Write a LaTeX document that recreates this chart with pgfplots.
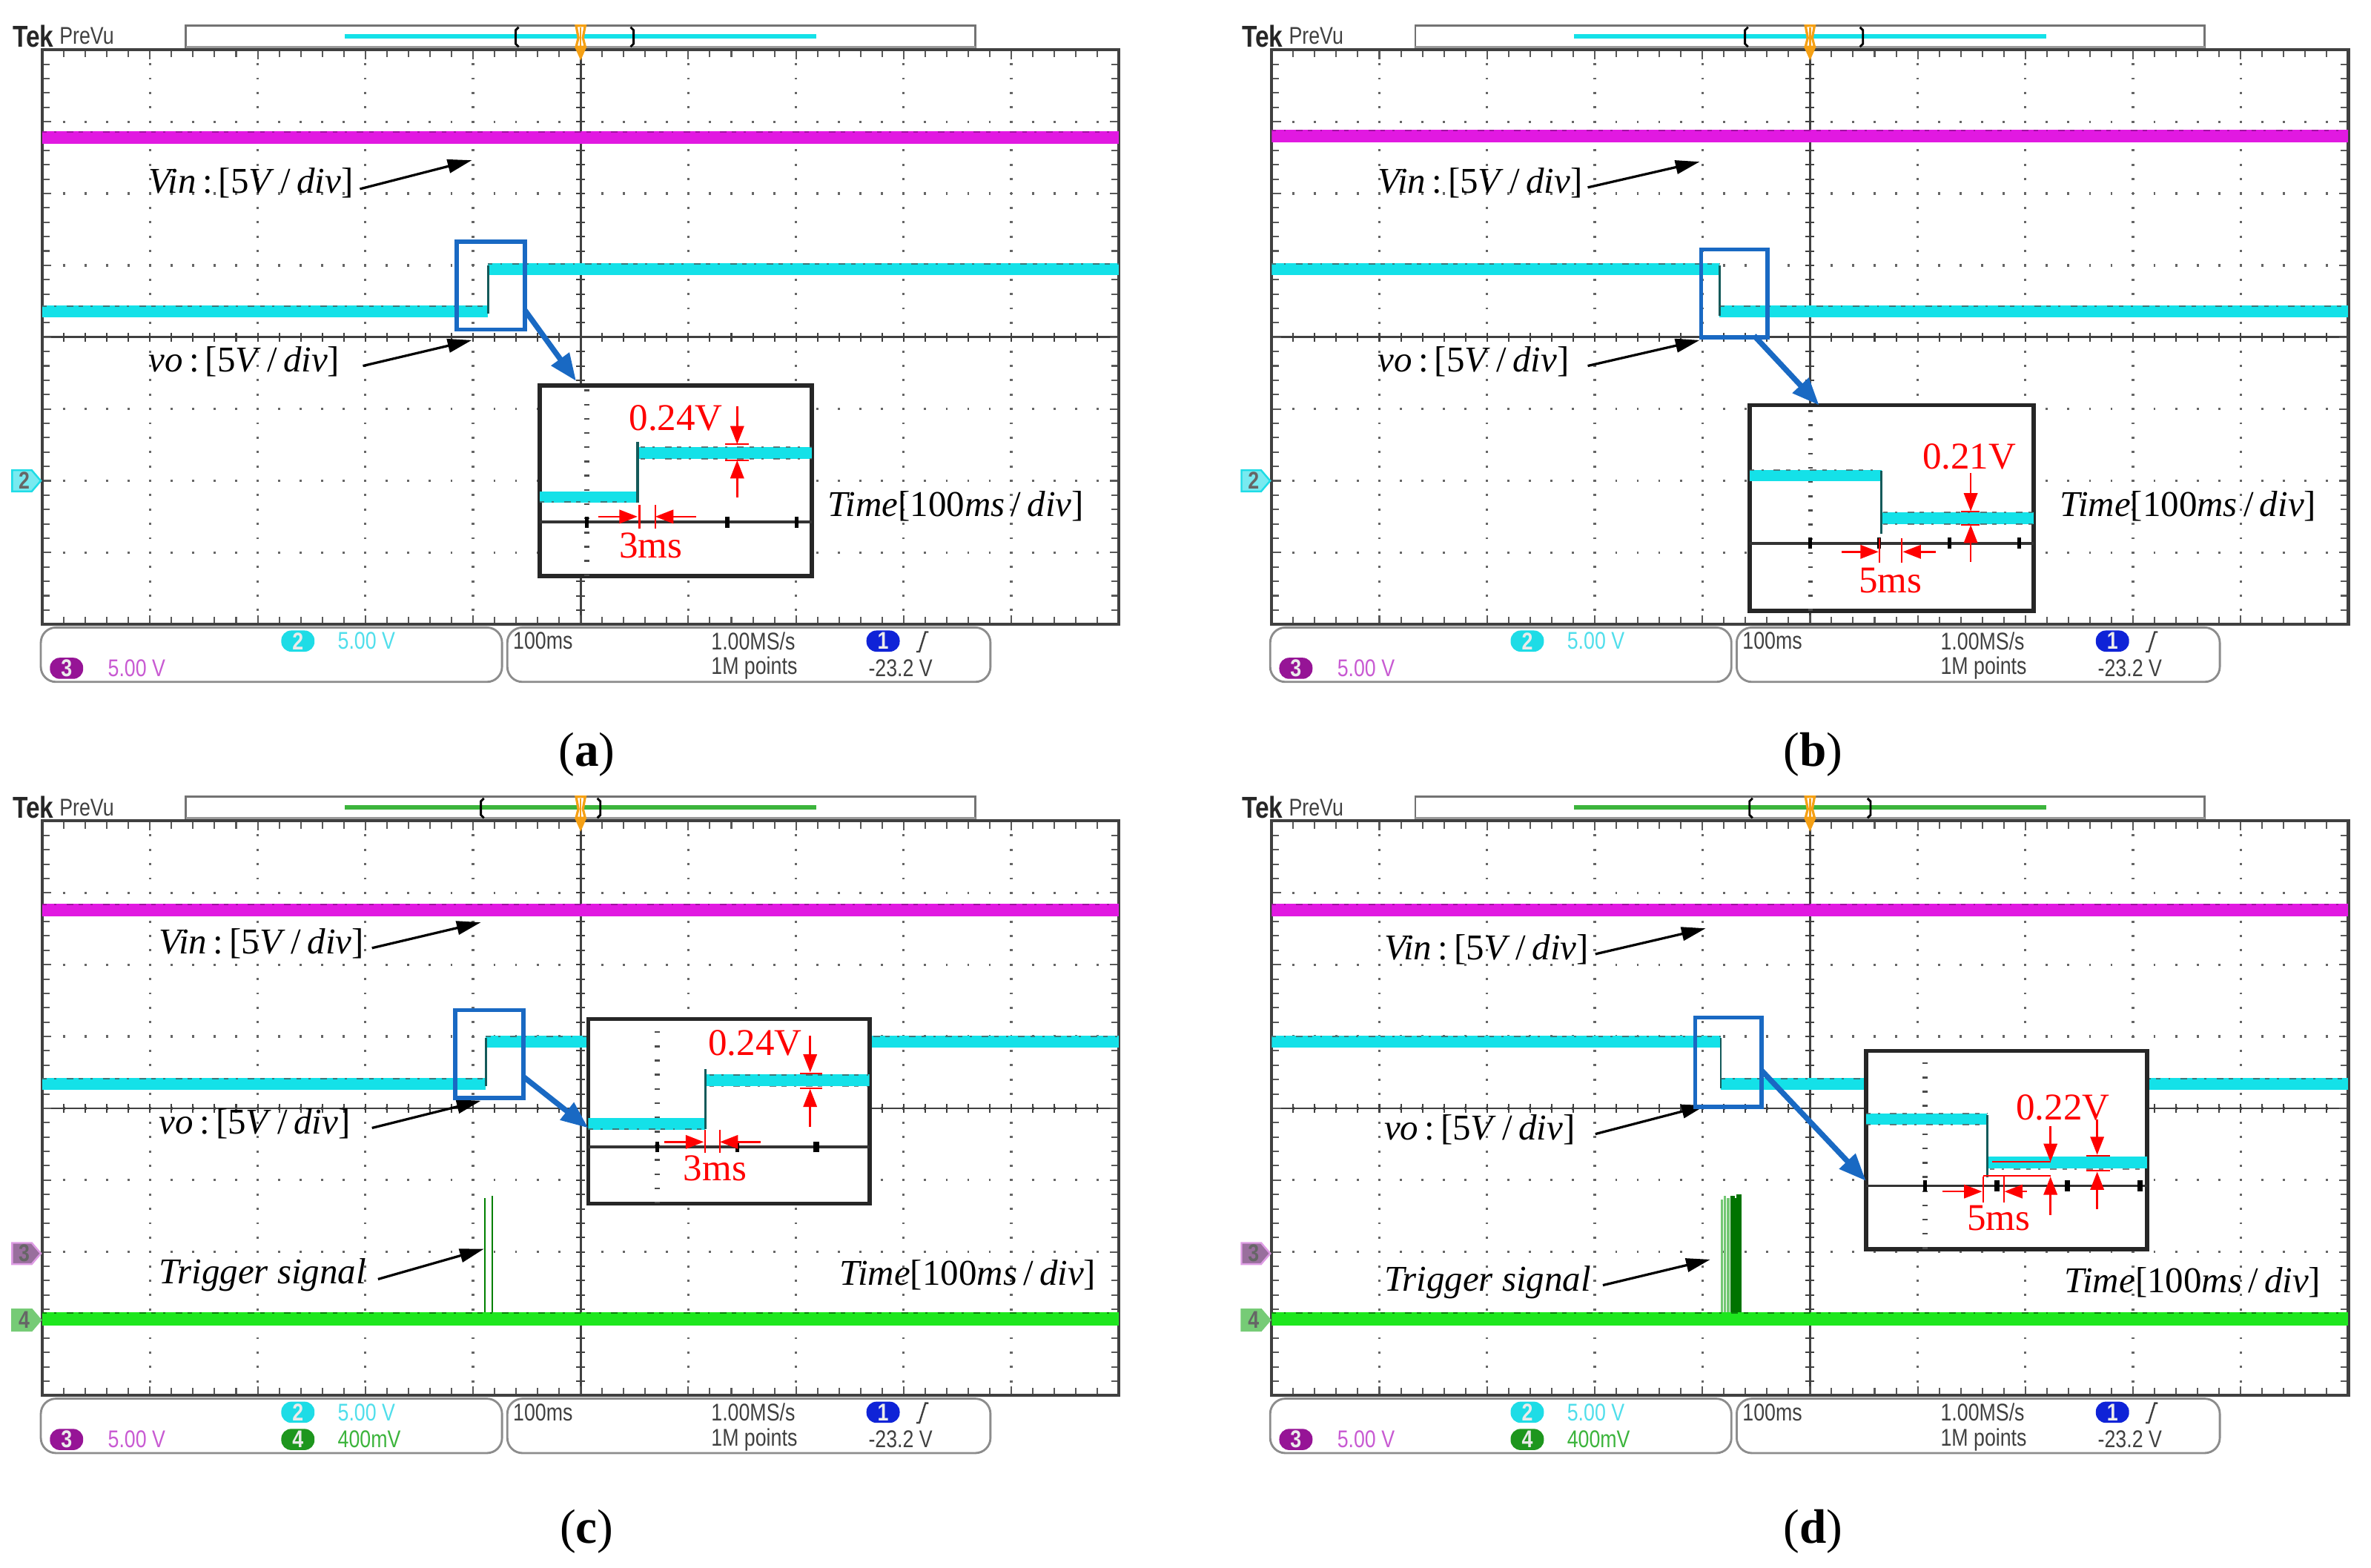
\documentclass[border=0pt]{standalone}
\usepackage{pgfplots}
\pgfplotsset{compat=1.18}
\usepackage{fontspec}
\setmainfont{Liberation Serif}
\newfontfamily\uifont[FakeStretch=0.82]{Liberation Sans}
\usetikzlibrary{arrows.meta}

\definecolor{scmag}{RGB}{225,25,225}
\definecolor{sccyan}{RGB}{20,225,232}
\definecolor{scgreen}{RGB}{30,230,30}
\definecolor{scblue}{RGB}{25,105,195}
\definecolor{scred}{RGB}{255,0,0}
\definecolor{tealdark}{RGB}{20,90,90}
\definecolor{uicyan}{RGB}{30,220,230}
\definecolor{uicyantext}{RGB}{80,222,235}
\definecolor{uipurple}{RGB}{150,20,150}
\definecolor{uimag}{RGB}{200,90,210}
\definecolor{uigreen}{RGB}{30,150,30}
\definecolor{uigreentext}{RGB}{60,180,60}
\definecolor{uiblue}{RGB}{15,35,215}
\definecolor{uiorange}{RGB}{245,160,20}

\newcommand{\labf}{\fontsize{12}{14}\selectfont}
\newcommand{\redf}{\fontsize{12.5}{14}\selectfont}
\newcommand{\uif}{\uifont\fontsize{8}{9}\selectfont}
\newcommand{\panf}{\fontsize{16}{18}\selectfont}

\tikzset{
  redarrow/.style={scred, line width=0.6pt, -{Triangle[length=6pt,width=4.5pt]}},
  redline/.style={scred, line width=0.5pt},
  blkarrow/.style={black, line width=0.8pt, -{Triangle[length=8pt,width=4.5pt]}},
  bluearrow/.style={scblue, line width=1.8pt, -{Triangle[length=9pt,width=7pt]}},
  noise/.style={black!70, line width=0.45pt, opacity=0.7, dash pattern=on 1.5pt off 2.5pt on 0.7pt off 3.3pt on 2.2pt off 1.8pt},
  badge/.style={rectangle, rounded corners=3.3pt, inner sep=0pt, minimum width=11pt, minimum height=7pt, text=white!92!black, font=\uif\bfseries},
}

\pgfplotsset{
  scopeaxis/.style={
    anchor=north west, scale only axis, width=356pt, height=190pt,
    xmin=-5, xmax=5, ymin=-4, ymax=4,
    xtick={-5,...,5}, ytick={-4,...,4},
    minor x tick num=4, minor y tick num=4,
    xticklabels={}, yticklabels={},
    tick align=inside, tick pos=both,
    major tick length=3pt, minor tick length=2.5pt,
    tick style={black!65, line width=0.5pt},
    minor tick style={black!65, line width=0.5pt},
    axis line style={black!75, line width=1pt},
  },
  insetaxis/.style={
    anchor=north west, scale only axis,
    xmin=0, xmax=100, ymin=0, ymax=100,
    ticks=none,
    axis line style={black!85, line width=1.4pt},
    axis background/.style={fill=white},
  },
}

% background of one scope screen: grid, centre lines, top bar, info bar
\newcommand{\panelbg}[5]{% #1 dx, #2 dy, #3 bar colour, #4 left bracket, #5 right bracket
  \foreach \i in {1,...,9} {
    \draw[black!60, line width=0.8pt, dash pattern=on 0.7pt off 4.05pt, dash phase=0.35pt]
      ({28+#1+\i*71.2},{33+#2}) -- ({28+#1+\i*71.2},{413+#2});
  }
  \foreach \j in {1,...,7} {
    \draw[black!60, line width=0.8pt, dash pattern=on 0.7pt off 6.42pt, dash phase=0.35pt]
      ({28+#1},{33+#2+\j*47.5}) -- ({740+#1},{33+#2+\j*47.5});
  }
  \draw[black!75, line width=0.7pt] ({384+#1},{33+#2}) -- ({384+#1},{413+#2});
  \draw[black!75, line width=0.7pt] ({28+#1},{223+#2}) -- ({740+#1},{223+#2});
  \foreach \k in {1,...,49} {
    \draw[black!75, line width=0.5pt] ({28+#1+\k*14.24},{220+#2}) -- ++(0,6);
  }
  \foreach \k in {1,...,39} {
    \draw[black!75, line width=0.5pt] ({381+#1},{33+#2+\k*9.5}) -- ++(6,0);
  }
  % Tek PreVu
  \node[anchor=west, inner sep=0pt, font=\uifont\fontsize{10}{11}\selectfont\bfseries, text=black!85] at ({8+#1},{24+#2}) {Tek};
  \node[anchor=west, inner sep=0pt, font=\uif, text=black!75] at ({39+#1},{24+#2}) {PreVu};
  % top bar
  \draw[black!55, line width=0.7pt, fill=white] ({123+#1},{17+#2}) rectangle ({645+#1},{32+#2});
  \draw[black!40, line width=1pt] ({123+#1},{31.5+#2}) -- ({645+#1},{31.5+#2});
  \draw[#3, line width=1.3pt] ({228+#1},{24+#2}) -- ({540+#1},{24+#2});
  \draw[black, line width=0.7pt] ({#4+#1+2},{18+#2}) -- ({#4+#1},{20+#2}) -- ({#4+#1},{29+#2}) -- ({#4+#1+2},{31+#2});
  \draw[black, line width=0.7pt] ({#5+#1-2},{18+#2}) -- ({#5+#1},{20+#2}) -- ({#5+#1},{29+#2}) -- ({#5+#1-2},{31+#2});
  % info bar
  \draw[black!45, line width=0.7pt, rounded corners=5pt] ({27+#1},{415+#2}) rectangle ({332+#1},{451+#2});
  \draw[black!45, line width=0.7pt, rounded corners=5pt] ({335.5+#1},{415+#2}) rectangle ({655+#1},{451+#2});
  \node[badge, fill=uicyan] at ({197+#1},{424+#2}) {2};
  \node[anchor=west, inner sep=0pt, text=uicyantext, font=\uif] at ({223+#1},{424+#2}) {5.00 V};
  \node[badge, fill=uipurple] at ({44+#1},{442+#2}) {3};
  \node[anchor=west, inner sep=0pt, text=uimag, font=\uif] at ({71+#1},{442+#2}) {5.00 V};
  \node[anchor=west, inner sep=0pt, text=black!75, font=\uif] at ({339+#1},{424+#2}) {100ms};
  \node[anchor=west, inner sep=0pt, text=black!75, font=\uif] at ({470+#1},{424+#2}) {1.00MS/s};
  \node[anchor=west, inner sep=0pt, text=black!75, font=\uif] at ({470+#1},{442+#2}) {1M points};
  \node[badge, fill=uiblue] at ({584+#1},{424+#2}) {1};
  \draw[black!75, line width=0.6pt] ({606+#1},{431+#2}) -- ({608+#1},{431+#2}) -- ({612+#1},{418+#2}) -- ({614+#1},{418+#2});
  \node[anchor=west, inner sep=0pt, text=black!75, font=\uif] at ({574+#1},{442+#2}) {-23.2 V};
}

\newcommand{\chfour}[2]{% extra channel 4 text in the info bar
  \node[badge, fill=uigreen] at ({197+#1},{442+#2}) {4};
  \node[anchor=west, inner sep=0pt, text=uigreentext, font=\uif] at ({223+#1},{442+#2}) {400mV};
}

\newcommand{\chmark}[5]{% x offset, y centre, fill, draw, label
  \draw[fill=#3, draw=#4, line width=0.6pt] ({8+#1},{#2-7}) -- ({21+#1},{#2-7}) -- ({27+#1},{#2}) -- ({21+#1},{#2+7}) -- ({8+#1},{#2+7}) -- cycle;
  \node[font=\uif\bfseries, text=black!60, inner sep=0pt] at ({16+#1},{#2}) {#5};
}

\newcommand{\trigmark}[2]{%
  \draw[uiorange, line width=0.8pt, fill=white] ({381+#1},{17+#2}) -- ({387+#1},{17+#2}) -- ({385.5+#1},{25+#2}) -- ({387+#1},{31+#2}) -- ({381+#1},{31+#2}) -- ({382.5+#1},{25+#2}) -- cycle;
  \fill[uiorange] ({380+#1},{31+#2}) -- ({388+#1},{31+#2}) -- ({384+#1},{40+#2}) -- cycle;
  \draw[uiorange, line width=0.6pt] ({384+#1},{18+#2}) -- ({384+#1},{31+#2});
}

\newcommand{\vinlab}{\textit{Vin}\,:\,[5\textit{V}\,/\,\textit{div}]}
\newcommand{\volab}{\textit{vo}\,:\,[5\textit{V}\,/\,\textit{div}]}
\newcommand{\timelab}{\textit{Time}[100\textit{ms}\,/\,\textit{div}]}

\begin{document}
\begin{tikzpicture}
\useasboundingbox (0,0) rectangle (784pt,518.5pt);

% ---------- backgrounds ----------
\begin{scope}[x=0.5pt, y=-0.5pt, shift={(0pt,518.5pt)}]
  \panelbg{0}{0}{sccyan}{341}{419}
  \panelbg{813}{0}{sccyan}{341}{419}
  \panelbg{0}{510}{uigreentext}{318}{397}
  \panelbg{813}{510}{uigreentext}{344}{424}
  \chfour{0}{510}
  \chfour{813}{510}
\end{scope}

% ---------- (a) ----------
\begin{axis}[scopeaxis, at={(14pt,502pt)}]
  \addplot[scmag, line width=4.3pt] coordinates {(-5,2.78) (5,2.78)};
  \addplot[noise, draw=scmag!60!black] coordinates {(-5,2.86) (5,2.86)};
  \addplot[sccyan, line width=3.9pt] coordinates {(-5,0.36) (-0.86,0.36)};
  \addplot[sccyan, line width=3.9pt] coordinates {(-0.86,0.95) (5,0.95)};
  \addplot[tealdark, line width=0.6pt] coordinates {(-0.86,0.33) (-0.86,1.0)};
  \addplot[noise] coordinates {(-5,0.43) (-0.86,0.43)};
  \addplot[noise] coordinates {(-0.86,1.02) (5,1.02)};
\end{axis}

% ---------- (b) ----------
\begin{axis}[scopeaxis, at={(420.5pt,502pt)}]
  \addplot[scmag, line width=4.3pt] coordinates {(-5,2.8) (5,2.8)};
  \addplot[noise, draw=scmag!60!black] coordinates {(-5,2.88) (5,2.88)};
  \addplot[sccyan, line width=3.9pt] coordinates {(-5,0.95) (-0.84,0.95)};
  \addplot[sccyan, line width=3.9pt] coordinates {(-0.84,0.36) (5,0.36)};
  \addplot[tealdark, line width=0.6pt] coordinates {(-0.84,1.0) (-0.84,0.3)};
  \addplot[noise] coordinates {(-5,1.02) (-0.84,1.02)};
  \addplot[noise] coordinates {(-0.84,0.43) (5,0.43)};
\end{axis}

% ---------- (c) ----------
\begin{axis}[scopeaxis, at={(14pt,247pt)}]
  \addplot[scmag, line width=4.3pt] coordinates {(-5,2.76) (5,2.76)};
  \addplot[noise, draw=scmag!60!black] coordinates {(-5,2.84) (5,2.84)};
  \addplot[sccyan, line width=3.9pt] coordinates {(-5,0.34) (-0.88,0.34)};
  \addplot[sccyan, line width=3.9pt] coordinates {(-0.88,0.93) (5,0.93)};
  \addplot[tealdark, line width=0.6pt] coordinates {(-0.88,0.31) (-0.88,0.98)};
  \addplot[noise] coordinates {(-5,0.41) (-0.88,0.41)};
  \addplot[noise] coordinates {(-0.88,1.0) (5,1.0)};
  \addplot[green!50!black, line width=0.6pt] coordinates {(-0.89,-2.93) (-0.89,-1.25)};
  \addplot[green!50!black, line width=0.6pt] coordinates {(-0.82,-2.93) (-0.82,-1.22)};
  \addplot[scgreen, line width=4.3pt] coordinates {(-5,-2.93) (5,-2.93)};
  \addplot[noise, draw=green!35!black] coordinates {(-5,-2.85) (5,-2.85)};
\end{axis}

% ---------- (d) ----------
\begin{axis}[scopeaxis, at={(420.5pt,247pt)}]
  \addplot[scmag, line width=4.3pt] coordinates {(-5,2.76) (5,2.76)};
  \addplot[noise, draw=scmag!60!black] coordinates {(-5,2.84) (5,2.84)};
  \addplot[sccyan, line width=3.9pt] coordinates {(-5,0.93) (-0.83,0.93)};
  \addplot[sccyan, line width=3.9pt] coordinates {(-0.83,0.34) (5,0.34)};
  \addplot[tealdark, line width=0.6pt] coordinates {(-0.83,0.98) (-0.83,0.28)};
  \addplot[noise] coordinates {(-5,1.0) (-0.83,1.0)};
  \addplot[noise] coordinates {(-0.83,0.41) (5,0.41)};
  \addplot[green!60!black!55, line width=0.8pt] coordinates {(-0.82,-2.93) (-0.82,-1.27)};
  \addplot[green!60!black!55, line width=0.8pt] coordinates {(-0.79,-2.93) (-0.79,-1.22)};
  \addplot[green!60!black!55, line width=0.8pt] coordinates {(-0.76,-2.93) (-0.76,-1.25)};
  \addplot[green!45!black, line width=1.5pt] coordinates {(-0.72,-2.93) (-0.72,-1.22)};
  \addplot[green!45!black, line width=1.5pt] coordinates {(-0.69,-2.93) (-0.69,-1.25)};
  \addplot[green!45!black, line width=1.5pt] coordinates {(-0.66,-2.93) (-0.66,-1.2)};
  \addplot[scgreen, line width=4.3pt] coordinates {(-5,-2.93) (5,-2.93)};
  \addplot[noise, draw=green!35!black] coordinates {(-5,-2.85) (5,-2.85)};
\end{axis}

% ---------- labels, markers, boxes ----------
\begin{scope}[x=0.5pt, y=-0.5pt, shift={(0pt,518.5pt)}]
  \trigmark{0}{0} \trigmark{813}{0} \trigmark{0}{510} \trigmark{813}{510}
  \chmark{0}{318}{uicyan!60}{uicyan}{2}
  \chmark{813}{318}{uicyan!60}{uicyan}{2}
  \chmark{0}{829}{black!45!uimag!70}{uimag!60}{3}
  \chmark{813}{829}{black!45!uimag!70}{uimag!60}{3}
  \chmark{0}{873}{uigreentext!70}{uigreentext!70}{4}
  \chmark{813}{873}{uigreentext!70}{uigreentext!70}{4}

  % (a)
  \node[anchor=west, inner sep=0pt, font=\labf] at (98,121) {\vinlab};
  \draw[blkarrow] (238,125) -- (312,106);
  \node[anchor=west, inner sep=0pt, font=\labf] at (98,239) {\volab};
  \draw[blkarrow] (240,242) -- (312,225);
  \node[anchor=west, inner sep=0pt, font=\labf] at (547,335) {\timelab};
  \draw[scblue, line width=1.4pt] (302,160) rectangle (347,218);
  \node[font=\panf] at (388,499) {(\textbf{a})};

  % (b)
  \node[anchor=west, inner sep=0pt, font=\labf] at (911,121) {\vinlab};
  \draw[blkarrow] (1050,124) -- (1124,107);
  \node[anchor=west, inner sep=0pt, font=\labf] at (911,239) {\volab};
  \draw[blkarrow] (1050,242) -- (1124,225);
  \node[anchor=west, inner sep=0pt, font=\labf] at (1362,335) {\timelab};
  \draw[scblue, line width=1.4pt] (1125,165) rectangle (1169,223);
  \node[font=\panf] at (1199,499) {(\textbf{b})};

  % (c)
  \node[anchor=west, inner sep=0pt, font=\labf] at (105,624) {\vinlab};
  \draw[blkarrow] (246,627) -- (318,610);
  \node[anchor=west, inner sep=0pt, font=\labf] at (105,743) {\volab};
  \draw[blkarrow] (246,746) -- (318,728);
  \node[anchor=west, inner sep=0pt, font=\labf] at (105,843) {\textit{Trigger signal}};
  \draw[blkarrow] (250,846) -- (320,826);
  \node[anchor=west, inner sep=0pt, font=\labf] at (555,843) {\timelab};
  \draw[scblue, line width=1.4pt] (301,668) rectangle (346,726);
  \node[font=\panf] at (388,1013) {(\textbf{c})};

  % (d)
  \node[anchor=west, inner sep=0pt, font=\labf] at (915,628) {\vinlab};
  \draw[blkarrow] (1055,631) -- (1128,614);
  \node[anchor=west, inner sep=0pt, font=\labf] at (915,747) {\volab};
  \draw[blkarrow] (1055,750) -- (1128,731);
  \node[anchor=west, inner sep=0pt, font=\labf] at (915,848) {\textit{Trigger signal}};
  \draw[blkarrow] (1060,850) -- (1131,833);
  \node[anchor=west, inner sep=0pt, font=\labf] at (1365,848) {\timelab};
  \draw[scblue, line width=1.4pt] (1121,673) rectangle (1165,732);
  \node[font=\panf] at (1199,1013) {(\textbf{d})};
\end{scope}

% ---------- inset (a) ----------
\begin{axis}[insetaxis, at={(178.5pt,391pt)}, width=90pt, height=63pt]
  \draw[black!70, line width=1.6pt, dash pattern=on 0.6pt off 4.1pt] (axis cs:17.2,0) -- (axis cs:17.2,100);
  \draw[black!80, line width=0.9pt] (axis cs:0,28.3) -- (axis cs:100,28.3);
  \draw[black, line width=1.3pt] (axis cs:17.2,25.5) -- (axis cs:17.2,31.1);
  \draw[black, line width=1.3pt] (axis cs:68.9,25.5) -- (axis cs:68.9,31.1);
  \draw[black, line width=1.3pt] (axis cs:94.3,25.5) -- (axis cs:94.3,31.1);
  \addplot[sccyan, line width=3.7pt] coordinates {(0,41.6) (35.9,41.6)};
  \addplot[sccyan, line width=4pt] coordinates {(35.9,64.7) (100,64.7)};
  \addplot[tealdark, line width=0.8pt] coordinates {(35.9,38.5) (35.9,70.5)};
  \addplot[noise] coordinates {(0,38.9) (35.9,38.9)};
  \addplot[noise] coordinates {(37,61.6) (100,61.6)};
  \addplot[noise] coordinates {(37,67.6) (100,67.6)};
  \node[text=scred, font=\redf, inner sep=0pt] at (axis cs:50,82.9) {0.24V};
  \draw[redarrow] (axis cs:72.5,89) -- (axis cs:72.5,69.2);
  \draw[redarrow] (axis cs:72.5,41.3) -- (axis cs:72.5,60.8);
  \draw[redline] (axis cs:68.1,69.2) -- (axis cs:76.7,69.2);
  \draw[redline] (axis cs:68.1,60.8) -- (axis cs:76.7,60.8);
  \draw[redarrow] (axis cs:21.5,31.2) -- (axis cs:35.9,31.2);
  \draw[redarrow] (axis cs:57.4,31.2) -- (axis cs:42.4,31.2);
  \draw[redline] (axis cs:36.6,37.4) -- (axis cs:36.6,25.1);
  \draw[redline] (axis cs:42.4,37.4) -- (axis cs:42.4,25.1);
  \node[text=scred, font=\redf, inner sep=0pt] at (axis cs:40.7,16) {3ms};
\end{axis}

% ---------- inset (b) ----------
\begin{axis}[insetaxis, at={(578.5pt,384.5pt)}, width=94pt, height=68pt]
  \draw[black!70, line width=1.6pt, dash pattern=on 0.6pt off 4.1pt] (axis cs:21.4,0) -- (axis cs:21.4,100);
  \draw[black!80, line width=0.9pt] (axis cs:0,32.9) -- (axis cs:100,32.9);
  \draw[black, line width=1.3pt] (axis cs:21.4,30.3) -- (axis cs:21.4,35.5);
  \draw[black, line width=1.3pt] (axis cs:45.6,30.3) -- (axis cs:45.6,35.5);
  \draw[black, line width=1.3pt] (axis cs:70.4,30.3) -- (axis cs:70.4,35.5);
  \draw[black, line width=1.3pt] (axis cs:94.8,30.3) -- (axis cs:94.8,35.5);
  \addplot[sccyan, line width=3.8pt] coordinates {(0,65.8) (46.4,65.8)};
  \addplot[sccyan, line width=3.8pt] coordinates {(46.4,45) (100,45)};
  \addplot[tealdark, line width=0.8pt] coordinates {(46.4,68) (46.4,37.6)};
  \addplot[noise] coordinates {(0,68.5) (46.4,68.5)};
  \addplot[noise] coordinates {(47,47.8) (100,47.8)};
  \addplot[noise] coordinates {(47,42.3) (100,42.3)};
  \node[text=scred, font=\redf, inner sep=0pt] at (axis cs:77.3,74.9) {0.21V};
  \draw[redarrow] (axis cs:77.8,67) -- (axis cs:77.8,48.4);
  \draw[redarrow] (axis cs:77.8,23.9) -- (axis cs:77.8,41.8);
  \draw[redline] (axis cs:74.5,48.4) -- (axis cs:81,48.4);
  \draw[redline] (axis cs:74.5,41.8) -- (axis cs:81,41.8);
  \draw[redarrow] (axis cs:32.3,28.7) -- (axis cs:45.4,28.7);
  \draw[redarrow] (axis cs:65.5,28.7) -- (axis cs:53.9,28.7);
  \draw[redline] (axis cs:45.6,35.2) -- (axis cs:45.6,23.3);
  \draw[redline] (axis cs:53.6,35.2) -- (axis cs:53.6,23.3);
  \node[text=scred, font=\redf, inner sep=0pt] at (axis cs:49.5,14.6) {5ms};
\end{axis}

% ---------- inset (c) ----------
\begin{axis}[insetaxis, at={(194.5pt,181.5pt)}, width=93pt, height=61pt]
  \draw[black!70, line width=1.6pt, dash pattern=on 0.6pt off 4.1pt] (axis cs:24.6,0) -- (axis cs:24.6,100);
  \draw[black!80, line width=0.9pt] (axis cs:0,30.7) -- (axis cs:100,30.7);
  \draw[black, line width=1.3pt] (axis cs:24.6,27.8) -- (axis cs:24.6,33.6);
  \draw[black, line width=1.3pt] (axis cs:53,27.8) -- (axis cs:53,33.6);
  \draw[black, line width=1.8pt] (axis cs:81.1,27.8) -- (axis cs:81.1,33.6);
  \addplot[sccyan, line width=3.7pt] coordinates {(0,43.2) (41.6,43.2)};
  \addplot[sccyan, line width=4pt] coordinates {(41.6,66.8) (100,66.8)};
  \addplot[tealdark, line width=0.8pt] coordinates {(41.6,40.5) (41.6,72.9)};
  \addplot[noise] coordinates {(0,40.3) (41.6,40.3)};
  \addplot[noise] coordinates {(43,63.5) (100,63.5)};
  \addplot[noise] coordinates {(43,69.8) (100,69.8)};
  \node[text=scred, font=\redf, inner sep=0pt] at (axis cs:59.3,86.9) {0.24V};
  \draw[redarrow] (axis cs:78.9,91) -- (axis cs:78.9,71.1);
  \draw[redarrow] (axis cs:78.9,41.4) -- (axis cs:78.9,62.2);
  \draw[redline] (axis cs:75.4,70.6) -- (axis cs:83.3,70.6);
  \draw[redline] (axis cs:75.4,62.6) -- (axis cs:83.3,62.6);
  \draw[redarrow] (axis cs:27.1,33.4) -- (axis cs:41.1,33.4);
  \draw[redarrow] (axis cs:61.3,33.4) -- (axis cs:46.8,33.4);
  \draw[redline] (axis cs:41.6,40.1) -- (axis cs:41.6,27.4);
  \draw[redline] (axis cs:46.8,40.1) -- (axis cs:46.8,27.4);
  \node[text=scred, font=\redf, inner sep=0pt] at (axis cs:45.1,19.1) {3ms};
\end{axis}

% ---------- inset (d) ----------
\begin{axis}[insetaxis, at={(617pt,171pt)}, width=93pt, height=65.5pt]
  \draw[black!70, line width=1.6pt, dash pattern=on 0.6pt off 4.1pt] (axis cs:21,0) -- (axis cs:21,100);
  \draw[black!80, line width=0.9pt] (axis cs:0,31.9) -- (axis cs:100,31.9);
  \draw[black, line width=1.3pt] (axis cs:21,29.2) -- (axis cs:21,34.6);
  \draw[black, line width=1.8pt] (axis cs:46.6,29.2) -- (axis cs:46.6,34.6);
  \draw[black, line width=1.8pt] (axis cs:71.7,29.2) -- (axis cs:71.7,34.6);
  \draw[black, line width=1.8pt] (axis cs:97.4,29.2) -- (axis cs:97.4,34.6);
  \addplot[sccyan, line width=3.7pt] coordinates {(0,65.6) (43.1,65.6)};
  \addplot[sccyan, line width=3.9pt] coordinates {(43.1,43.5) (100,43.5)};
  \addplot[tealdark, line width=0.8pt] coordinates {(43.1,67.5) (43.1,36)};
  \addplot[noise] coordinates {(0,68.3) (43.1,68.3)};
  \addplot[noise] coordinates {(0,62.8) (43.1,62.8)};
  \addplot[noise] coordinates {(44,40.3) (100,40.3)};
  \node[text=scred, font=\redf, inner sep=0pt] at (axis cs:70,71.5) {0.22V};
  \draw[redarrow] (axis cs:65.6,62) -- (axis cs:65.6,44);
  \draw[redarrow] (axis cs:65.6,17.1) -- (axis cs:65.6,36.5);
  \draw[redarrow] (axis cs:82.2,65.5) -- (axis cs:82.2,47.5);
  \draw[redarrow] (axis cs:82.2,20) -- (axis cs:82.2,39);
  \draw[redline] (axis cs:78.4,47.1) -- (axis cs:86.8,47.1);
  \draw[redline] (axis cs:78.4,39.6) -- (axis cs:86.8,39.6);
  \draw[redline] (axis cs:44.8,44) -- (axis cs:65.6,44);
  \draw[redline] (axis cs:41.7,37.1) -- (axis cs:65.6,37.1);
  \draw[redarrow] (axis cs:27.2,29) -- (axis cs:41.3,29);
  \draw[redarrow] (axis cs:57.2,29) -- (axis cs:49.2,29);
  \draw[redline] (axis cs:41.7,36.5) -- (axis cs:41.7,23.4);
  \draw[redline] (axis cs:49.1,36.5) -- (axis cs:49.1,23.4);
  \node[text=scred, font=\redf, inner sep=0pt] at (axis cs:47.2,15.5) {5ms};
\end{axis}

% ---------- blue arrows on top ----------
\begin{scope}[x=0.5pt, y=-0.5pt, shift={(0pt,518.5pt)}]
  \draw[bluearrow] (347,205) -- (381,252);
  \draw[bluearrow] (1160,222) -- (1203,268);
  \draw[bluearrow] (346,712) -- (389,746);
  \draw[bluearrow] (1165,708) -- (1234,781);
\end{scope}
\end{tikzpicture}
\end{document}
